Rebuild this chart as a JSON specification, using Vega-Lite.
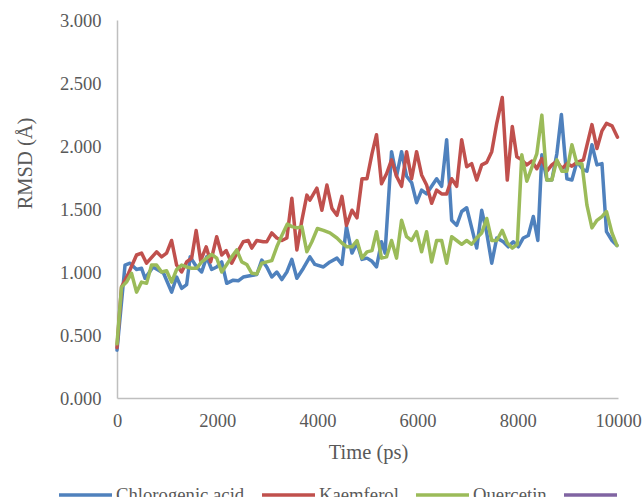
{
  "$schema": "https://vega.github.io/schema/vega-lite/v6.json",
  "width": 501,
  "height": 378,
  "autosize": {"type": "none"},
  "padding": {"left": 117, "top": 20, "right": 25, "bottom": 99},
  "background": "white",
  "config": {"view": {"stroke": null}},
  "data": {"values": [
{"s":"Chlorogenic acid","t":0,"v":0.38},{"s":"Chlorogenic acid","t":160,"v":1.055},{"s":"Chlorogenic acid","t":260,"v":1.07},{"s":"Chlorogenic acid","t":390,"v":1.02},{"s":"Chlorogenic acid","t":490,"v":1.03},{"s":"Chlorogenic acid","t":560,"v":0.95},{"s":"Chlorogenic acid","t":720,"v":1.04},{"s":"Chlorogenic acid","t":930,"v":0.99},{"s":"Chlorogenic acid","t":1090,"v":0.84},{"s":"Chlorogenic acid","t":1190,"v":0.96},{"s":"Chlorogenic acid","t":1290,"v":0.87},{"s":"Chlorogenic acid","t":1390,"v":0.9},{"s":"Chlorogenic acid","t":1460,"v":1.12},{"s":"Chlorogenic acid","t":1590,"v":1.04},{"s":"Chlorogenic acid","t":1690,"v":1.0},{"s":"Chlorogenic acid","t":1790,"v":1.12},{"s":"Chlorogenic acid","t":1890,"v":1.02},{"s":"Chlorogenic acid","t":1990,"v":1.04},{"s":"Chlorogenic acid","t":2090,"v":1.08},{"s":"Chlorogenic acid","t":2190,"v":0.91},{"s":"Chlorogenic acid","t":2320,"v":0.935},{"s":"Chlorogenic acid","t":2420,"v":0.93},{"s":"Chlorogenic acid","t":2520,"v":0.96},{"s":"Chlorogenic acid","t":2650,"v":0.97},{"s":"Chlorogenic acid","t":2790,"v":0.98},{"s":"Chlorogenic acid","t":2890,"v":1.095},{"s":"Chlorogenic acid","t":2990,"v":1.04},{"s":"Chlorogenic acid","t":3090,"v":0.96},{"s":"Chlorogenic acid","t":3190,"v":1.0},{"s":"Chlorogenic acid","t":3290,"v":0.94},{"s":"Chlorogenic acid","t":3390,"v":1.0},{"s":"Chlorogenic acid","t":3490,"v":1.1},{"s":"Chlorogenic acid","t":3590,"v":0.95},{"s":"Chlorogenic acid","t":3720,"v":1.03},{"s":"Chlorogenic acid","t":3850,"v":1.12},{"s":"Chlorogenic acid","t":3950,"v":1.06},{"s":"Chlorogenic acid","t":4120,"v":1.04},{"s":"Chlorogenic acid","t":4250,"v":1.08},{"s":"Chlorogenic acid","t":4390,"v":1.11},{"s":"Chlorogenic acid","t":4490,"v":1.06},{"s":"Chlorogenic acid","t":4580,"v":1.36},{"s":"Chlorogenic acid","t":4690,"v":1.15},{"s":"Chlorogenic acid","t":4790,"v":1.23},{"s":"Chlorogenic acid","t":4890,"v":1.1},{"s":"Chlorogenic acid","t":4990,"v":1.11},{"s":"Chlorogenic acid","t":5090,"v":1.085},{"s":"Chlorogenic acid","t":5180,"v":1.04},{"s":"Chlorogenic acid","t":5280,"v":1.24},{"s":"Chlorogenic acid","t":5350,"v":1.15},{"s":"Chlorogenic acid","t":5480,"v":1.955},{"s":"Chlorogenic acid","t":5580,"v":1.76},{"s":"Chlorogenic acid","t":5680,"v":1.955},{"s":"Chlorogenic acid","t":5780,"v":1.76},{"s":"Chlorogenic acid","t":5880,"v":1.71},{"s":"Chlorogenic acid","t":5980,"v":1.55},{"s":"Chlorogenic acid","t":6080,"v":1.65},{"s":"Chlorogenic acid","t":6180,"v":1.62},{"s":"Chlorogenic acid","t":6280,"v":1.68},{"s":"Chlorogenic acid","t":6380,"v":1.74},{"s":"Chlorogenic acid","t":6480,"v":1.68},{"s":"Chlorogenic acid","t":6580,"v":2.05},{"s":"Chlorogenic acid","t":6680,"v":1.41},{"s":"Chlorogenic acid","t":6780,"v":1.37},{"s":"Chlorogenic acid","t":6880,"v":1.48},{"s":"Chlorogenic acid","t":6980,"v":1.51},{"s":"Chlorogenic acid","t":7080,"v":1.35},{"s":"Chlorogenic acid","t":7180,"v":1.19},{"s":"Chlorogenic acid","t":7280,"v":1.49},{"s":"Chlorogenic acid","t":7380,"v":1.31},{"s":"Chlorogenic acid","t":7480,"v":1.07},{"s":"Chlorogenic acid","t":7580,"v":1.27},{"s":"Chlorogenic acid","t":7710,"v":1.24},{"s":"Chlorogenic acid","t":7810,"v":1.2},{"s":"Chlorogenic acid","t":7910,"v":1.24},{"s":"Chlorogenic acid","t":8010,"v":1.2},{"s":"Chlorogenic acid","t":8110,"v":1.27},{"s":"Chlorogenic acid","t":8210,"v":1.29},{"s":"Chlorogenic acid","t":8310,"v":1.44},{"s":"Chlorogenic acid","t":8400,"v":1.25},{"s":"Chlorogenic acid","t":8480,"v":1.93},{"s":"Chlorogenic acid","t":8580,"v":1.73},{"s":"Chlorogenic acid","t":8680,"v":1.73},{"s":"Chlorogenic acid","t":8780,"v":1.94},{"s":"Chlorogenic acid","t":8870,"v":2.25},{"s":"Chlorogenic acid","t":8980,"v":1.74},{"s":"Chlorogenic acid","t":9080,"v":1.73},{"s":"Chlorogenic acid","t":9180,"v":1.875},{"s":"Chlorogenic acid","t":9310,"v":1.81},{"s":"Chlorogenic acid","t":9380,"v":1.8},{"s":"Chlorogenic acid","t":9480,"v":2.01},{"s":"Chlorogenic acid","t":9580,"v":1.85},{"s":"Chlorogenic acid","t":9680,"v":1.86},{"s":"Chlorogenic acid","t":9770,"v":1.32},{"s":"Chlorogenic acid","t":9880,"v":1.25},{"s":"Chlorogenic acid","t":9980,"v":1.21},
{"s":"Kaemferol","t":0,"v":0.4},{"s":"Kaemferol","t":90,"v":0.88},{"s":"Kaemferol","t":230,"v":0.99},{"s":"Kaemferol","t":390,"v":1.135},{"s":"Kaemferol","t":490,"v":1.15},{"s":"Kaemferol","t":590,"v":1.07},{"s":"Kaemferol","t":790,"v":1.16},{"s":"Kaemferol","t":890,"v":1.12},{"s":"Kaemferol","t":990,"v":1.15},{"s":"Kaemferol","t":1090,"v":1.25},{"s":"Kaemferol","t":1190,"v":1.055},{"s":"Kaemferol","t":1290,"v":1.0},{"s":"Kaemferol","t":1390,"v":1.08},{"s":"Kaemferol","t":1490,"v":1.11},{"s":"Kaemferol","t":1580,"v":1.33},{"s":"Kaemferol","t":1670,"v":1.09},{"s":"Kaemferol","t":1780,"v":1.2},{"s":"Kaemferol","t":1870,"v":1.08},{"s":"Kaemferol","t":1990,"v":1.28},{"s":"Kaemferol","t":2090,"v":1.135},{"s":"Kaemferol","t":2180,"v":1.17},{"s":"Kaemferol","t":2290,"v":1.07},{"s":"Kaemferol","t":2420,"v":1.17},{"s":"Kaemferol","t":2520,"v":1.24},{"s":"Kaemferol","t":2620,"v":1.25},{"s":"Kaemferol","t":2690,"v":1.19},{"s":"Kaemferol","t":2790,"v":1.25},{"s":"Kaemferol","t":2920,"v":1.24},{"s":"Kaemferol","t":2990,"v":1.24},{"s":"Kaemferol","t":3090,"v":1.31},{"s":"Kaemferol","t":3190,"v":1.27},{"s":"Kaemferol","t":3290,"v":1.25},{"s":"Kaemferol","t":3390,"v":1.27},{"s":"Kaemferol","t":3490,"v":1.585},{"s":"Kaemferol","t":3590,"v":1.175},{"s":"Kaemferol","t":3690,"v":1.41},{"s":"Kaemferol","t":3790,"v":1.61},{"s":"Kaemferol","t":3850,"v":1.57},{"s":"Kaemferol","t":3990,"v":1.665},{"s":"Kaemferol","t":4090,"v":1.49},{"s":"Kaemferol","t":4190,"v":1.69},{"s":"Kaemferol","t":4290,"v":1.505},{"s":"Kaemferol","t":4390,"v":1.45},{"s":"Kaemferol","t":4490,"v":1.6},{"s":"Kaemferol","t":4580,"v":1.37},{"s":"Kaemferol","t":4690,"v":1.49},{"s":"Kaemferol","t":4790,"v":1.43},{"s":"Kaemferol","t":4890,"v":1.74},{"s":"Kaemferol","t":4990,"v":1.74},{"s":"Kaemferol","t":5090,"v":1.94},{"s":"Kaemferol","t":5180,"v":2.09},{"s":"Kaemferol","t":5280,"v":1.7},{"s":"Kaemferol","t":5380,"v":1.78},{"s":"Kaemferol","t":5480,"v":1.89},{"s":"Kaemferol","t":5580,"v":1.76},{"s":"Kaemferol","t":5680,"v":1.68},{"s":"Kaemferol","t":5780,"v":1.955},{"s":"Kaemferol","t":5880,"v":1.74},{"s":"Kaemferol","t":5980,"v":1.955},{"s":"Kaemferol","t":6080,"v":1.77},{"s":"Kaemferol","t":6180,"v":1.69},{"s":"Kaemferol","t":6280,"v":1.545},{"s":"Kaemferol","t":6380,"v":1.65},{"s":"Kaemferol","t":6480,"v":1.62},{"s":"Kaemferol","t":6580,"v":1.62},{"s":"Kaemferol","t":6680,"v":1.74},{"s":"Kaemferol","t":6780,"v":1.68},{"s":"Kaemferol","t":6880,"v":2.05},{"s":"Kaemferol","t":6980,"v":1.835},{"s":"Kaemferol","t":7080,"v":1.86},{"s":"Kaemferol","t":7180,"v":1.73},{"s":"Kaemferol","t":7280,"v":1.85},{"s":"Kaemferol","t":7380,"v":1.87},{"s":"Kaemferol","t":7480,"v":1.955},{"s":"Kaemferol","t":7580,"v":2.18},{"s":"Kaemferol","t":7690,"v":2.385},{"s":"Kaemferol","t":7790,"v":1.73},{"s":"Kaemferol","t":7890,"v":2.155},{"s":"Kaemferol","t":7980,"v":1.915},{"s":"Kaemferol","t":8080,"v":1.89},{"s":"Kaemferol","t":8180,"v":1.85},{"s":"Kaemferol","t":8280,"v":1.88},{"s":"Kaemferol","t":8380,"v":1.82},{"s":"Kaemferol","t":8480,"v":1.9},{"s":"Kaemferol","t":8580,"v":1.8},{"s":"Kaemferol","t":8680,"v":1.85},{"s":"Kaemferol","t":8780,"v":1.88},{"s":"Kaemferol","t":8880,"v":1.82},{"s":"Kaemferol","t":8980,"v":1.86},{"s":"Kaemferol","t":9080,"v":1.84},{"s":"Kaemferol","t":9180,"v":1.87},{"s":"Kaemferol","t":9310,"v":1.89},{"s":"Kaemferol","t":9480,"v":2.17},{"s":"Kaemferol","t":9580,"v":1.98},{"s":"Kaemferol","t":9680,"v":2.12},{"s":"Kaemferol","t":9770,"v":2.18},{"s":"Kaemferol","t":9880,"v":2.16},{"s":"Kaemferol","t":9990,"v":2.07},
{"s":"Quercetin","t":0,"v":0.43},{"s":"Quercetin","t":90,"v":0.88},{"s":"Quercetin","t":190,"v":0.92},{"s":"Quercetin","t":290,"v":0.99},{"s":"Quercetin","t":390,"v":0.84},{"s":"Quercetin","t":490,"v":0.92},{"s":"Quercetin","t":590,"v":0.91},{"s":"Quercetin","t":690,"v":1.055},{"s":"Quercetin","t":790,"v":1.055},{"s":"Quercetin","t":890,"v":1.0},{"s":"Quercetin","t":990,"v":1.01},{"s":"Quercetin","t":1090,"v":0.92},{"s":"Quercetin","t":1190,"v":1.02},{"s":"Quercetin","t":1290,"v":1.055},{"s":"Quercetin","t":1390,"v":1.04},{"s":"Quercetin","t":1490,"v":1.03},{"s":"Quercetin","t":1590,"v":1.03},{"s":"Quercetin","t":1690,"v":1.08},{"s":"Quercetin","t":1790,"v":1.11},{"s":"Quercetin","t":1890,"v":1.14},{"s":"Quercetin","t":1990,"v":1.11},{"s":"Quercetin","t":2090,"v":1.0},{"s":"Quercetin","t":2190,"v":1.06},{"s":"Quercetin","t":2290,"v":1.12},{"s":"Quercetin","t":2390,"v":1.175},{"s":"Quercetin","t":2490,"v":1.08},{"s":"Quercetin","t":2590,"v":1.06},{"s":"Quercetin","t":2690,"v":0.99},{"s":"Quercetin","t":2790,"v":0.985},{"s":"Quercetin","t":2890,"v":1.07},{"s":"Quercetin","t":2990,"v":1.08},{"s":"Quercetin","t":3090,"v":1.09},{"s":"Quercetin","t":3190,"v":1.2},{"s":"Quercetin","t":3290,"v":1.29},{"s":"Quercetin","t":3400,"v":1.38},{"s":"Quercetin","t":3490,"v":1.36},{"s":"Quercetin","t":3590,"v":1.35},{"s":"Quercetin","t":3690,"v":1.36},{"s":"Quercetin","t":3790,"v":1.16},{"s":"Quercetin","t":3890,"v":1.24},{"s":"Quercetin","t":4000,"v":1.345},{"s":"Quercetin","t":4120,"v":1.33},{"s":"Quercetin","t":4250,"v":1.31},{"s":"Quercetin","t":4390,"v":1.27},{"s":"Quercetin","t":4490,"v":1.23},{"s":"Quercetin","t":4590,"v":1.2},{"s":"Quercetin","t":4690,"v":1.2},{"s":"Quercetin","t":4790,"v":1.25},{"s":"Quercetin","t":4890,"v":1.11},{"s":"Quercetin","t":4990,"v":1.16},{"s":"Quercetin","t":5090,"v":1.17},{"s":"Quercetin","t":5180,"v":1.32},{"s":"Quercetin","t":5280,"v":1.11},{"s":"Quercetin","t":5380,"v":1.12},{"s":"Quercetin","t":5480,"v":1.25},{"s":"Quercetin","t":5580,"v":1.11},{"s":"Quercetin","t":5680,"v":1.41},{"s":"Quercetin","t":5780,"v":1.28},{"s":"Quercetin","t":5880,"v":1.25},{"s":"Quercetin","t":5980,"v":1.32},{"s":"Quercetin","t":6080,"v":1.16},{"s":"Quercetin","t":6180,"v":1.32},{"s":"Quercetin","t":6280,"v":1.08},{"s":"Quercetin","t":6380,"v":1.25},{"s":"Quercetin","t":6480,"v":1.25},{"s":"Quercetin","t":6580,"v":1.07},{"s":"Quercetin","t":6680,"v":1.28},{"s":"Quercetin","t":6780,"v":1.25},{"s":"Quercetin","t":6880,"v":1.22},{"s":"Quercetin","t":6980,"v":1.25},{"s":"Quercetin","t":7080,"v":1.22},{"s":"Quercetin","t":7180,"v":1.27},{"s":"Quercetin","t":7280,"v":1.31},{"s":"Quercetin","t":7380,"v":1.425},{"s":"Quercetin","t":7480,"v":1.25},{"s":"Quercetin","t":7580,"v":1.25},{"s":"Quercetin","t":7690,"v":1.33},{"s":"Quercetin","t":7790,"v":1.23},{"s":"Quercetin","t":7890,"v":1.19},{"s":"Quercetin","t":7990,"v":1.22},{"s":"Quercetin","t":8080,"v":1.93},{"s":"Quercetin","t":8180,"v":1.72},{"s":"Quercetin","t":8280,"v":1.83},{"s":"Quercetin","t":8380,"v":1.94},{"s":"Quercetin","t":8480,"v":2.245},{"s":"Quercetin","t":8580,"v":1.73},{"s":"Quercetin","t":8680,"v":1.73},{"s":"Quercetin","t":8780,"v":1.89},{"s":"Quercetin","t":8880,"v":1.8},{"s":"Quercetin","t":8980,"v":1.8},{"s":"Quercetin","t":9080,"v":2.01},{"s":"Quercetin","t":9180,"v":1.86},{"s":"Quercetin","t":9280,"v":1.86},{"s":"Quercetin","t":9380,"v":1.53},{"s":"Quercetin","t":9480,"v":1.35},{"s":"Quercetin","t":9580,"v":1.41},{"s":"Quercetin","t":9680,"v":1.44},{"s":"Quercetin","t":9770,"v":1.48},{"s":"Quercetin","t":9880,"v":1.31},{"s":"Quercetin","t":9980,"v":1.21}
  ]},
  "mark": {"type": "line", "strokeWidth": 3.5, "strokeJoin": "round", "strokeCap": "round"},
  "encoding": {
    "x": {
      "field": "t", "type": "quantitative",
      "scale": {"domain": [0, 10000], "nice": false, "zero": false},
      "axis": {
        "title": "Time (ps)", "values": [0, 2000, 4000, 6000, 8000, 10000], "format": "d",
        "grid": false, "ticks": false, "domainColor": "#BFBFBF", "domainWidth": 1.5,
        "labelFont": "Liberation Serif", "labelFontSize": 18.5, "labelColor": "#595959", "labelPadding": 13,
        "labelFlush": false, "labelOverlap": false,
        "titleFont": "Liberation Serif", "titleFontSize": 20.5, "titleFontWeight": "normal", "titleColor": "#595959",
        "titleX": 251, "titleY": 54, "titleBaseline": "middle", "titleAlign": "center", "titleAnchor": null
      }
    },
    "y": {
      "field": "v", "type": "quantitative",
      "scale": {"domain": [0, 3], "nice": false},
      "axis": {
        "title": "RMSD (Å)", "values": [0, 0.5, 1, 1.5, 2, 2.5, 3], "format": ".3f",
        "grid": false, "ticks": false, "domainColor": "#BFBFBF", "domainWidth": 1.5,
        "labelFont": "Liberation Serif", "labelFontSize": 18.5, "labelColor": "#595959", "labelPadding": 16,
        "labelFlush": false, "labelOverlap": false,
        "titleFont": "Liberation Serif", "titleFontSize": 20.5, "titleFontWeight": "normal", "titleColor": "#595959",
        "titleX": -92, "titleY": 143, "titleBaseline": "middle", "titleAlign": "center", "titleAngle": 270
      }
    },
    "color": {
      "field": "s", "type": "nominal",
      "scale": {"domain": ["Chlorogenic acid", "Kaemferol", "Quercetin", "blank"], "range": ["#4F81BD", "#C0504D", "#9BBB59", "#8064A2"]},
      "legend": {
        "title": null, "orient": "none", "direction": "horizontal", "columns": 4,
        "legendX": -60, "legendY": 446, "padding": 0,
        "symbolType": "stroke", "symbolSize": 2809, "symbolStrokeWidth": 3.5,
        "labelFont": "Liberation Serif", "labelFontSize": 18.7, "labelColor": "#595959",
        "labelOffset": 2, "columnPadding": 10, "labelLimit": 300,
        "labelExpr": "datum.label == 'blank' ? '' : datum.label"
      }
    }
  }
}
